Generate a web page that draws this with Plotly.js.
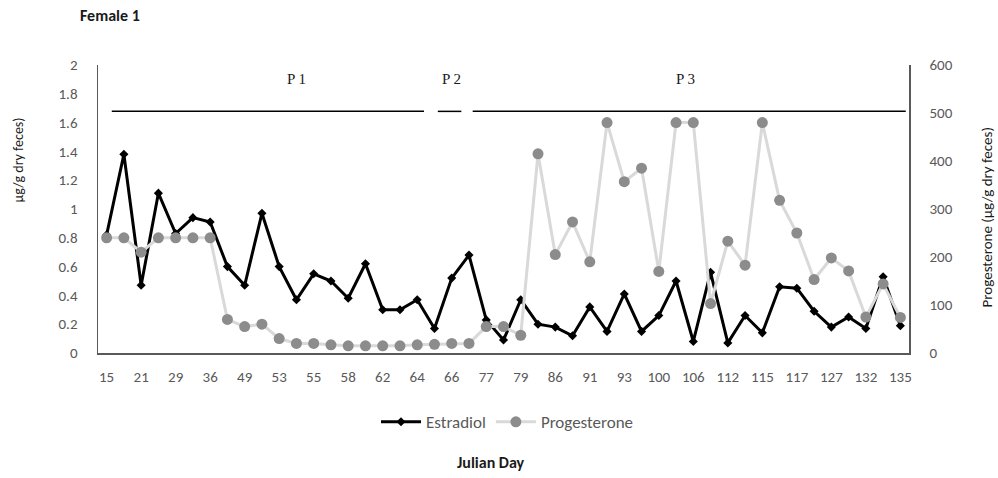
<!DOCTYPE html>
<html>
<head>
<meta charset="utf-8">
<script src="https://cdn.plot.ly/plotly-3.0.1.min.js"></script>
<style>
  html, body { margin: 0; padding: 0; background: #fff; }
  #chart { width: 998px; height: 478px; }
</style>
</head>
<body>
<div id="chart"></div>
<script>
// Sampling days (Julian day) for Female 1
const days = [15, 18, 21, 25, 29, 33, 36, 45, 49, 51, 53, 54, 55, 57, 58, 60,
  62, 63, 64, 65, 66, 72, 77, 78, 79, 82, 86, 89, 91, 92, 93, 97, 100, 104,
  106, 110, 112, 113, 115, 116, 117, 122, 127, 130, 132, 134, 135];

// Fecal estradiol (µg/g dry feces), left axis
const estradiol = [0.82, 1.38, 0.47, 1.11, 0.83, 0.94, 0.91, 0.60, 0.47, 0.97,
  0.60, 0.37, 0.55, 0.50, 0.38, 0.62, 0.30, 0.30, 0.37, 0.17, 0.52, 0.68, 0.23,
  0.09, 0.37, 0.20, 0.18, 0.12, 0.32, 0.15, 0.41, 0.15, 0.26, 0.50, 0.08, 0.56,
  0.07, 0.26, 0.14, 0.46, 0.45, 0.29, 0.18, 0.25, 0.17, 0.53, 0.19];

// Fecal progesterone (µg/g dry feces), right axis
const progesterone = [240, 240, 210, 240, 240, 240, 240, 70, 55, 60, 30, 20, 20,
  17, 15, 15, 15, 15, 17, 18, 20, 20, 55, 55, 37, 415, 205, 273, 190, 480, 357,
  385, 170, 480, 480, 103, 233, 183, 480, 318, 250, 153, 198, 171, 75, 144, 74];

// Every other day is labelled on the x axis
const dayLabels = days.map(String);
const tickDays = dayLabels.filter((d, i) => i % 2 === 0);

// Reproductive periods marked above the series
const periods = [
  { label: 'P 1', x0: 0.017, x1: 0.402, lx: 0.245 },
  { label: 'P 2', x0: 0.419, x1: 0.448, lx: 0.436 },
  { label: 'P 3', x0: 0.462, x1: 0.996, lx: 0.725 }
];

const FONT = 'Carlito, Lato, "Liberation Sans", sans-serif';
const GREY_TXT = '#595959';
const TICK = 15;

const traces = [
  {
    name: 'Estradiol',
    x: dayLabels,
    y: estradiol,
    type: 'scatter',
    mode: 'lines+markers',
    line: { color: '#000000', width: 3 },
    marker: { color: '#000000', symbol: 'diamond', size: 7 },
    yaxis: 'y'
  },
  {
    name: 'Progesterone',
    x: dayLabels,
    y: progesterone,
    type: 'scatter',
    mode: 'lines+markers',
    line: { color: '#d9d9d9', width: 3 },
    marker: { color: '#8c8c8c', symbol: 'circle', size: 11 },
    yaxis: 'y2'
  }
];

const shapes = periods.map(p => ({
  type: 'line', xref: 'paper', yref: 'paper',
  x0: p.x0, x1: p.x1, y0: 0.839, y1: 0.839,
  line: { color: '#000000', width: 1.5 }
}));

const annotations = periods.map(p => ({
  text: p.label, xref: 'paper', yref: 'paper', x: p.lx, y: 0.953,
  showarrow: false, xanchor: 'center', yanchor: 'middle',
  font: { family: '"Liberation Serif", "DejaVu Serif", serif', size: 15, color: '#1a1a1a' }
}));

annotations.push(
  {
    text: 'Female 1', xref: 'paper', yref: 'paper',
    x: (78 - 98) / 811, y: (352.7 - 15) / 288.2,
    xanchor: 'left', yanchor: 'middle', showarrow: false,
    font: { family: FONT, size: 16, color: '#1a1a1a', weight: 'bold' }
  },
  {
    text: 'Julian Day', xref: 'paper', yref: 'paper',
    x: (491 - 98) / 811, y: (352.7 - 462) / 288.2,
    xanchor: 'center', yanchor: 'middle', showarrow: false,
    font: { family: FONT, size: 16, color: '#1a1a1a', weight: 'bold' }
  },
  {
    text: 'µg/g dry feces)', xref: 'paper', yref: 'paper',
    x: (18 - 98) / 811, y: (352.7 - 160) / 288.2,
    xanchor: 'center', yanchor: 'middle', showarrow: false, textangle: -90,
    font: { family: FONT, size: 14, color: '#1a1a1a' }
  },
  {
    text: 'Progesterone (µg/g dry feces)', xref: 'paper', yref: 'paper',
    x: (987 - 98) / 811, y: (352.7 - 217) / 288.2,
    xanchor: 'center', yanchor: 'middle', showarrow: false, textangle: -90,
    font: { family: FONT, size: 15, color: '#1a1a1a' }
  }
);

const layout = {
  width: 998,
  height: 478,
  margin: { l: 98, r: 89, t: 64.5, b: 125.3 },
  paper_bgcolor: '#ffffff',
  plot_bgcolor: '#ffffff',
  font: { family: FONT, size: TICK, color: GREY_TXT },
  showlegend: true,
  legend: {
    orientation: 'h',
    x: (376 - 98) / 811, xanchor: 'left',
    y: (352.7 - 422) / 288.2, yanchor: 'middle',
    font: { family: FONT, size: 17, color: GREY_TXT },
    itemwidth: 40,
    tracegroupgap: 0
  },
  xaxis: {
    type: 'category',
    range: [-0.5, days.length - 0.5],
    tickmode: 'array',
    tickvals: tickDays,
    ticktext: tickDays,
    showgrid: false,
    zeroline: false,
    showline: true,
    linecolor: '#595959',
    linewidth: 1.5,
    ticks: '',
    ticklabelstandoff: 9,
    tickfont: { family: FONT, size: TICK, color: GREY_TXT },
    fixedrange: true
  },
  yaxis: {
    range: [0, 2],
    tickvals: [0, 0.2, 0.4, 0.6, 0.8, 1, 1.2, 1.4, 1.6, 1.8, 2],
    ticktext: ['0', '0.2', '0.4', '0.6', '0.8', '1', '1.2', '1.4', '1.6', '1.8', '2'],
    showgrid: false,
    zeroline: false,
    showline: true,
    linecolor: '#595959',
    linewidth: 1.5,
    ticks: '',
    ticklabelstandoff: 16,
    tickfont: { family: FONT, size: TICK, color: GREY_TXT },
    fixedrange: true
  },
  yaxis2: {
    overlaying: 'y',
    side: 'right',
    range: [0, 600],
    tickvals: [0, 100, 200, 300, 400, 500, 600],
    showgrid: false,
    zeroline: false,
    showline: true,
    linecolor: '#595959',
    linewidth: 1.5,
    ticks: '',
    ticklabelstandoff: 16,
    tickfont: { family: FONT, size: TICK, color: GREY_TXT },
    fixedrange: true
  },
  shapes: shapes,
  annotations: annotations
};

Plotly.newPlot('chart', traces, layout, { displayModeBar: false, staticPlot: true });
</script>
</body>
</html>
